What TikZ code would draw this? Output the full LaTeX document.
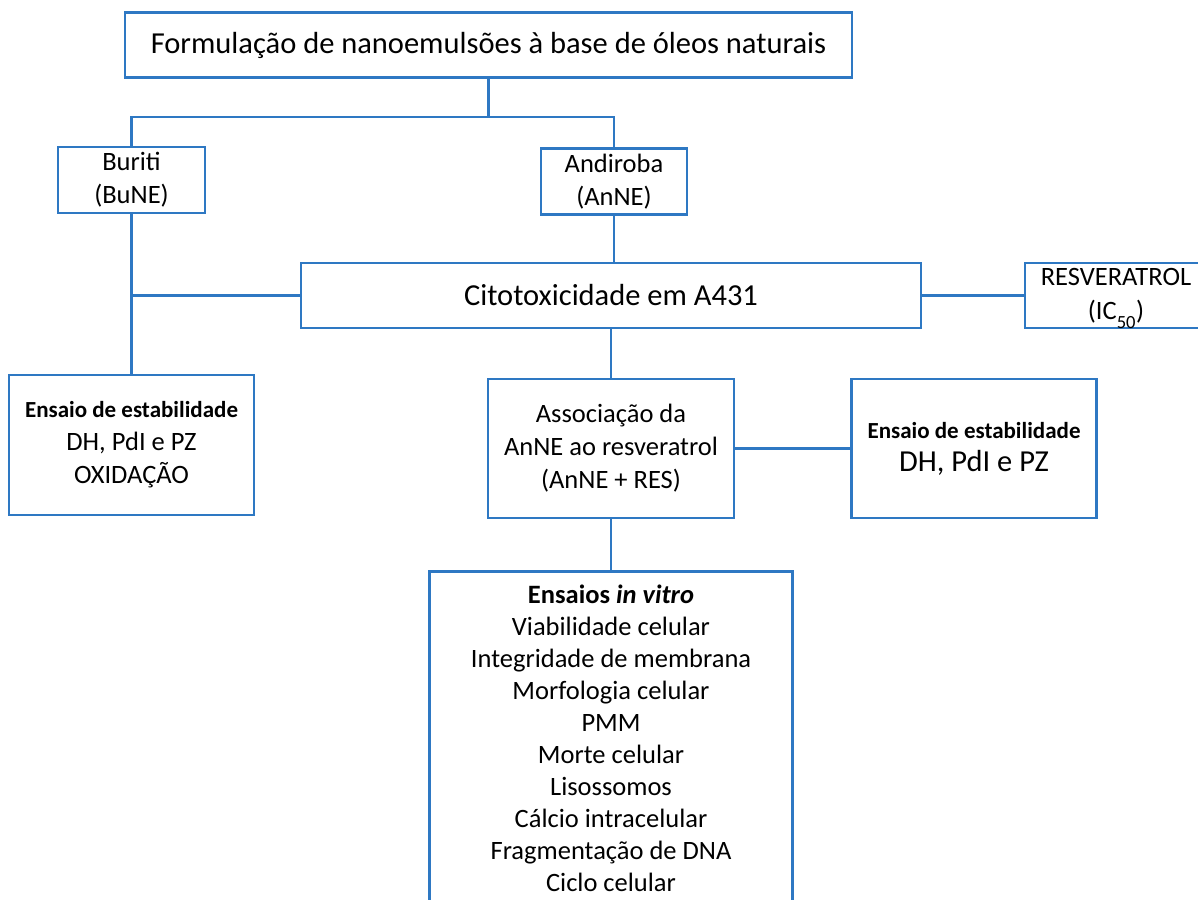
\documentclass[tikz,border=0pt]{standalone}
\usepackage{fontspec}
\setmainfont{Carlito}
\usetikzlibrary{positioning}

\definecolor{lineblue}{RGB}{46,120,195}

\tikzset{
  box/.style={draw=lineblue, line width=2.8pt, align=center, inner sep=0pt, fill=white},
  link/.style={draw=lineblue, line width=2.8pt},
}

\newcommand{\bigtxt}{\fontsize{30.5}{33}\selectfont}
\newcommand{\midtxt}{\fontsize{26.5}{33}\selectfont}
\newcommand{\lbltxt}{\fontsize{23}{33}\selectfont\bfseries}

\begin{document}
\begin{tikzpicture}[x=1pt, y=-1pt]
    \useasboundingbox (0,0) rectangle (1198,899);

    % Top box
    \path (488.5, 45) node [box, minimum width=727, minimum height=65, font=\bigtxt]
          (title) {Formulação de nanoemulsões à base de óleos naturais};

    % Oils
    \path (131.5, 180) node [box, minimum width=147, minimum height=66, font=\midtxt]
          (buriti) {Buriti\\ (BuNE)};
    \path (614, 181.5) node [box, minimum width=146, minimum height=66, font=\midtxt]
          (andiroba) {Andiroba\\ (AnNE)};

    % Cytotoxicity
    \path (611, 295.5) node [box, minimum width=620, minimum height=65, font=\bigtxt]
          (cito) {Citotoxicidade em A431};
    \path (1116, 295.5) node [box, minimum width=182, minimum height=65,
          font=\fontsize{26.5}{34}\selectfont]
          (resv) {RESVERATROL\\ (IC\textsubscript{\smash{\raisebox{-0.6ex}{50}}})};

    % Stability and association
    \path (131.5, 445) node [box, minimum width=245, minimum height=140, font=\midtxt]
          (stabbu) {\lbltxt Ensaio de estabilidade\\ DH, PdI e PZ\\ OXIDAÇÃO};
    \path (611, 448.5) node [box, minimum width=246, minimum height=139, font=\midtxt]
          (assoc) {Associação da\\ AnNE ao resveratrol\\ (AnNE + RES)};
    \path (974, 448.5) node [box, minimum width=245, minimum height=139, font=\bigtxt]
          (stabres) {\lbltxt Ensaio de estabilidade\\ DH, PdI e PZ};

    % In vitro assays
    \path (611, 570) node [box, anchor=north, minimum width=363, inner ysep=13pt,
          font=\fontsize{26.5}{32.1}\selectfont]
          (invitro) {\textbf{Ensaios \textit{in vitro}}\\
                     Viabilidade celular\\
                     Integridade de membrana\\
                     Morfologia celular\\
                     PMM\\
                     Morte celular\\
                     Lisossomos\\
                     Cálcio intracelular\\
                     Fragmentação de DNA\\
                     Ciclo celular};

    % Connections
    \path (title.south) ++(0, 38) coordinate (split);
    \draw [link] (title.south) -- (split);
    \draw [link] (buriti.north) |- (split) -| (andiroba.north);
    \draw [link] (buriti.south) -- (stabbu.north);
    \draw [link] (cito.west -| buriti.south) -- (cito.west);
    \draw [link] (andiroba.south) -- (cito.north -| andiroba.south);
    \draw [link] (cito.east) -- (resv.west);
    \draw [link] (cito.south) -- (assoc.north);
    \draw [link] (assoc.east) -- (stabres.west);
    \draw [link] (assoc.south) -- (invitro.north);
  \end{tikzpicture}
\end{document}
